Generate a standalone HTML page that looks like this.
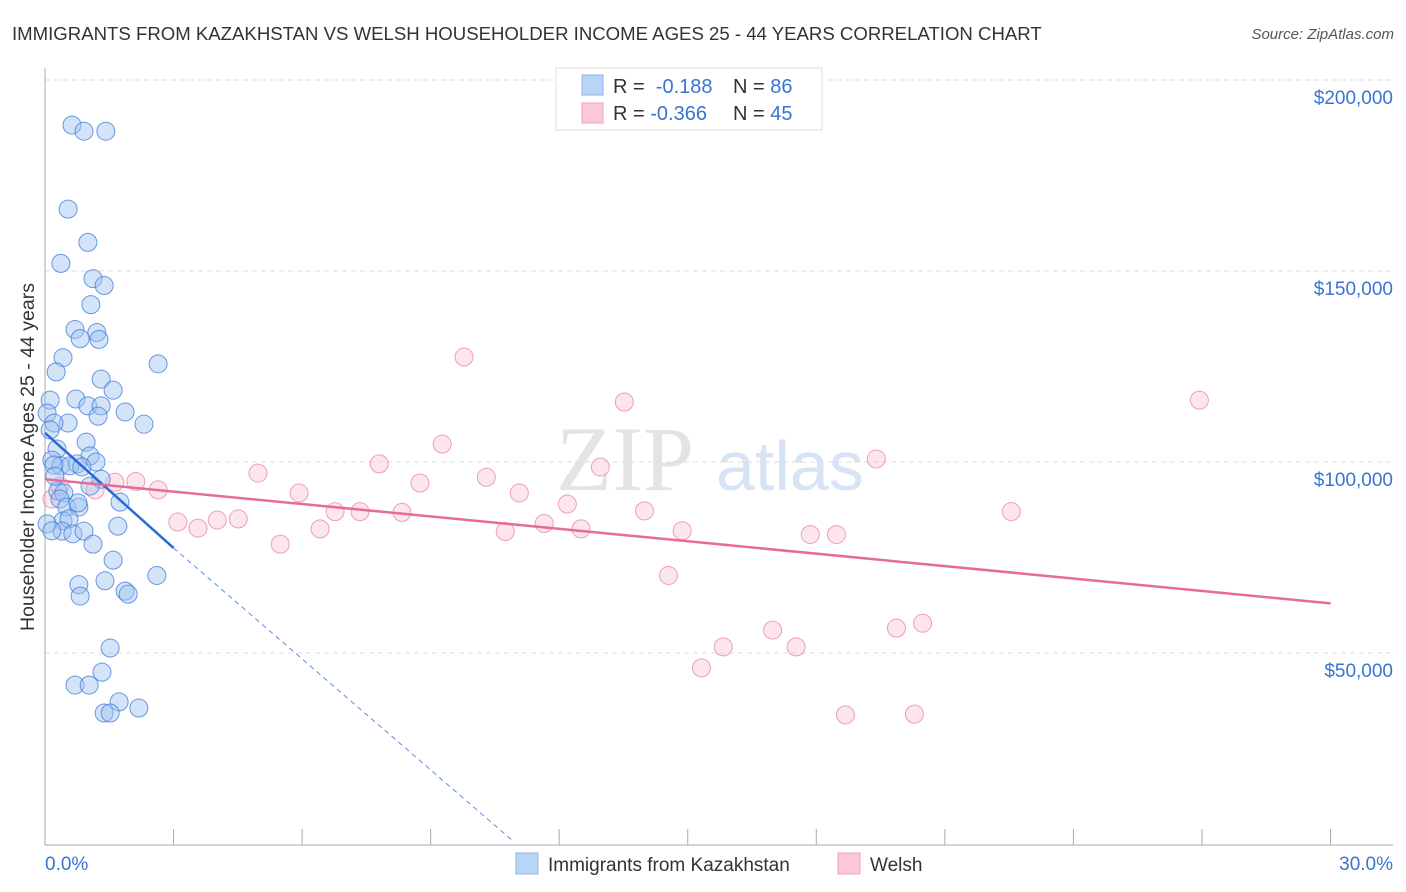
<!DOCTYPE html>
<html><head><meta charset="utf-8"><style>
body{margin:0;background:#fff;font-family:"Liberation Sans",sans-serif}
svg{display:block}
</style></head><body>
<svg id="chart" width="1406" height="892" xmlns="http://www.w3.org/2000/svg">
<text x="12" y="40" font-size="18.6" fill="#333">IMMIGRANTS FROM KAZAKHSTAN VS WELSH HOUSEHOLDER INCOME AGES 25 - 44 YEARS CORRELATION CHART</text>
<text x="1394" y="39" font-size="15" fill="#555" font-style="italic" text-anchor="end">Source: ZipAtlas.com</text>
<text transform="translate(34,457) rotate(-90)" font-size="19.5" fill="#333" text-anchor="middle">Householder Income Ages 25 - 44 years</text>
<text x="556" y="490" font-size="92" fill="#e4e4e4" font-family="Liberation Serif,serif">ZIP</text>
<text x="716" y="490" font-size="70" fill="#d6e4f5">atlas</text>
<g id="grid"></g><g id="axes"></g><g id="pts"></g><g id="trends"></g>
<g>
<rect x="556" y="68" width="266" height="62" fill="#fff" stroke="#ddd"/>
<rect x="582" y="75" width="21" height="20" fill="#b9d4f5" stroke="#8ab4ea"/>
<rect x="582" y="103" width="21" height="20" fill="#fac8d8" stroke="#f2a3bd"/>
<text x="613" y="93" font-size="20" fill="#333">R = <tspan fill="#3a74d1">&#160;-0.188</tspan></text>
<text x="733" y="93" font-size="20" fill="#333">N = <tspan fill="#3a74d1">86</tspan></text>
<text x="613" y="120" font-size="20" fill="#333">R = <tspan fill="#3a74d1">-0.366</tspan></text>
<text x="733" y="120" font-size="20" fill="#333">N = <tspan fill="#3a74d1">45</tspan></text>
</g>
<g>
<rect x="516" y="853" width="22" height="21" fill="#b9d4f5" stroke="#8ab4ea"/>
<text x="548" y="871" font-size="19" fill="#333">Immigrants from Kazakhstan</text>
<rect x="838" y="853" width="22" height="21" fill="#fac8d8" stroke="#f2a3bd"/>
<text x="870" y="871" font-size="19" fill="#333">Welsh</text>
</g>
</svg>
<script>
const xTickLabels=["0.0%","30.0%"];
const yTicks=[50000,100000,150000,200000];
const yTickLabels=["$50,000","$100,000","$150,000","$200,000"];
const blueX=[0.63,0.91,1.42,0.54,1.00,0.37,1.12,1.38,1.07,0.70,1.21,1.26,0.82,0.42,2.64,0.26,1.31,1.59,0.12,0.72,1.00,1.31,1.87,0.05,0.54,1.24,2.31,0.21,0.12,0.96,0.28,0.16,1.05,0.37,0.75,1.19,0.58,0.21,0.86,1.31,1.05,0.30,0.44,0.35,0.51,0.79,0.77,0.42,0.56,1.75,1.70,0.40,0.65,0.91,1.12,1.59,2.61,0.79,1.40,0.82,1.87,1.94,1.52,1.33,0.70,1.03,1.73,1.38,1.52,2.19,0.05,0.16,0.23];
const blueY=[188200,186600,186600,166200,157500,152000,148000,146200,141200,134700,133900,132100,132300,127300,125700,123600,121700,118800,116200,116500,114700,114700,113100,112800,110200,112000,109900,110200,108400,105200,103400,100500,101600,99000,99500,100000,99000,99200,98700,95500,93700,92400,91900,90300,88200,88200,89300,84600,85100,89500,83200,81900,81200,81900,78500,74300,70300,67900,68900,64900,66200,65400,51300,45000,41600,41600,37200,34300,34300,35600,83800,82000,96300];
const pinkX=[9.78,26.94,13.52,9.27,19.40,7.80,4.97,12.96,10.30,2.12,1.63,8.75,2.64,5.93,11.07,12.19,1.17,8.33,6.77,7.35,13.99,22.55,3.10,4.51,4.02,3.57,6.42,11.65,10.74,12.51,14.87,17.86,18.47,5.49,14.55,16.98,19.87,20.48,17.53,15.83,15.32,18.68,20.29,0.16,0.35];
const pinkY=[127500,116200,115700,104700,100800,99500,97100,98700,96000,94900,94700,94500,92700,91900,91900,89000,92700,86800,87000,87000,87200,87000,84300,85100,84800,82700,82500,83900,81800,82500,82000,81000,81000,78500,70300,56000,56500,57800,51600,51600,46100,33800,34000,90300,93700];
const blueTrend=[[0,107600],[3,77500]];
const blueDash=[[3,77500],[10.9,1000]];
const pinkTrend=[[0,95500],[30,63000]];
const NS="http://www.w3.org/2000/svg";
const xs=v=>45+v*42.85, ys=v=>844-v*191/50000;
function mk(tag,attrs,parent){const e=document.createElementNS(NS,tag);for(const k in attrs)e.setAttribute(k,attrs[k]);document.getElementById(parent).appendChild(e);return e;}
yTicks.forEach((t,i)=>{
 const g=mk('line',{x1:45,x2:1393,y1:ys(t),y2:ys(t),stroke:'#ddd','stroke-dasharray':'5,4'},'grid');
 
 
 const l=mk('text',{x:1393,y:ys(t)+24,'font-size':19,fill:'#3a74d1','text-anchor':'end'},'axes');
 l.textContent=yTickLabels[i];
 
 
});
let ax=mk('line',{x1:45,x2:45,y1:68,y2:845,stroke:'#aaa'},'axes');


ax=mk('line',{x1:45,x2:1393,y1:845,y2:845,stroke:'#aaa'},'axes');


for(let i=1;i<=10;i++){const t=mk('line',{x1:xs(i*3),x2:xs(i*3),y1:829,y2:845,stroke:'#aaa'},'axes');
 
 }
[[0,'start',45],[30,'end',1393]].forEach((d,i)=>{const l=mk('text',{x:d[2],y:870,'font-size':19,fill:'#3a74d1','text-anchor':d[1]},'axes');l.textContent=xTickLabels[i];
 
 });
pinkX.forEach((x,i)=>{const c=mk('circle',{cx:xs(x),cy:ys(pinkY[i]),r:9,fill:'rgba(248,180,203,0.35)',stroke:'rgba(232,130,165,0.75)','stroke-width':1},'pts');
 
 });
blueX.forEach((x,i)=>{const c=mk('circle',{cx:xs(x),cy:ys(blueY[i]),r:9,fill:'rgba(160,195,240,0.45)',stroke:'rgba(60,120,215,0.75)','stroke-width':1},'pts');
 
 });
let tl=mk('line',{x1:xs(blueTrend[0][0]),y1:ys(blueTrend[0][1]),x2:xs(blueTrend[1][0]),y2:ys(blueTrend[1][1]),stroke:'#2a6ad6','stroke-width':2.5},'trends');


tl=mk('line',{x1:xs(blueDash[0][0]),y1:ys(blueDash[0][1]),x2:xs(blueDash[1][0]),y2:ys(blueDash[1][1]),stroke:'#5b8ee0','stroke-width':1,'stroke-dasharray':'5,4'},'trends');


tl=mk('line',{x1:xs(pinkTrend[0][0]),y1:ys(pinkTrend[0][1]),x2:xs(pinkTrend[1][0]),y2:ys(pinkTrend[1][1]),stroke:'#e56b98','stroke-width':2.5},'trends');


</script>
</body></html>
